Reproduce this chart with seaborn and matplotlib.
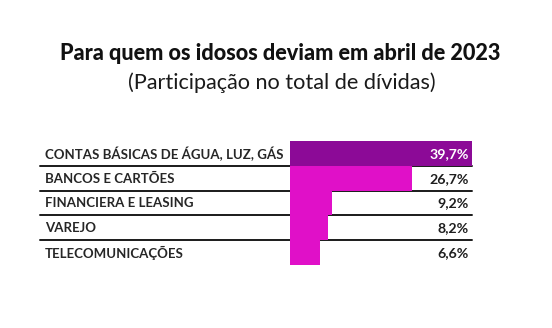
import matplotlib
matplotlib.use("Agg")
import matplotlib.pyplot as plt
import matplotlib.transforms as mtransforms
import seaborn as sns
import pandas as pd

categories = ["CONTAS BÁSICAS DE ÁGUA, LUZ, GÁS", "BANCOS E CARTÕES",
              "FINANCIERA E LEASING", "VAREJO", "TELECOMUNICAÇÕES"]
values = [39.7, 26.7, 9.2, 8.2, 6.6]
value_labels = ["39,7%", "26,7%", "9,2%", "8,2%", "6,6%"]
title = "Para quem os idosos deviam em abril de 2023"
subtitle = "(Participação no total de dívidas)"

sns.set_theme(style="white")
plt.rcParams['font.family'] = ['Lato', 'DejaVu Sans']

W, H = 552, 328
fig = plt.figure(figsize=(W / 100, H / 100), dpi=100)
fig.patch.set_facecolor("white")

def fx(px):
    return px / W

def fy(py):
    return 1 - py / H

left, right, top, bottom = 290, 472, 141, 265
ax = fig.add_axes([fx(left), fy(bottom), fx(right - left), (bottom - top) / H])

df = pd.DataFrame({"cat": categories, "val": values})
colors = ["#8C0A97"] + ["#E010C8"] * 4
sns.barplot(data=df, x="val", y="cat", hue="cat", palette=colors, legend=False,
            width=1.0, ax=ax, saturation=1, zorder=3, edgecolor="none")
ax.set_xlim(0, max(values))
ax.set_ylim(len(values) - 0.5, -0.5)
ax.axis("off")

trans = mtransforms.blended_transform_factory(fig.transFigure, ax.transData)
for i in range(len(values) - 1):
    ax.plot([fx(40), fx(472)], [i + 0.5, i + 0.5], transform=trans, color="#1a1a1a",
            lw=1.4, clip_on=False, zorder=1)

for i, (c, lab) in enumerate(zip(categories, value_labels)):
    ax.text(fx(45), i + 0.02, c, transform=trans, ha="left", va="center",
            fontsize=9.5, fontweight="bold", color="#262626")
    ax.text(fx(469), i + 0.02, lab, transform=trans, ha="right", va="center",
            fontsize=10.2, fontweight="bold",
            color="white" if i == 0 else "#1e1e1e", zorder=5)

fig.text(fx(280), fy(53), title, ha="center", va="center", fontsize=15.6,
         fontweight="black", color="#111111")
fig.text(fx(282), fy(83), subtitle, ha="center", va="center", fontsize=15.6,
         color="#1a1a1a")

fig.savefig("out.png", dpi=100, facecolor="white")
